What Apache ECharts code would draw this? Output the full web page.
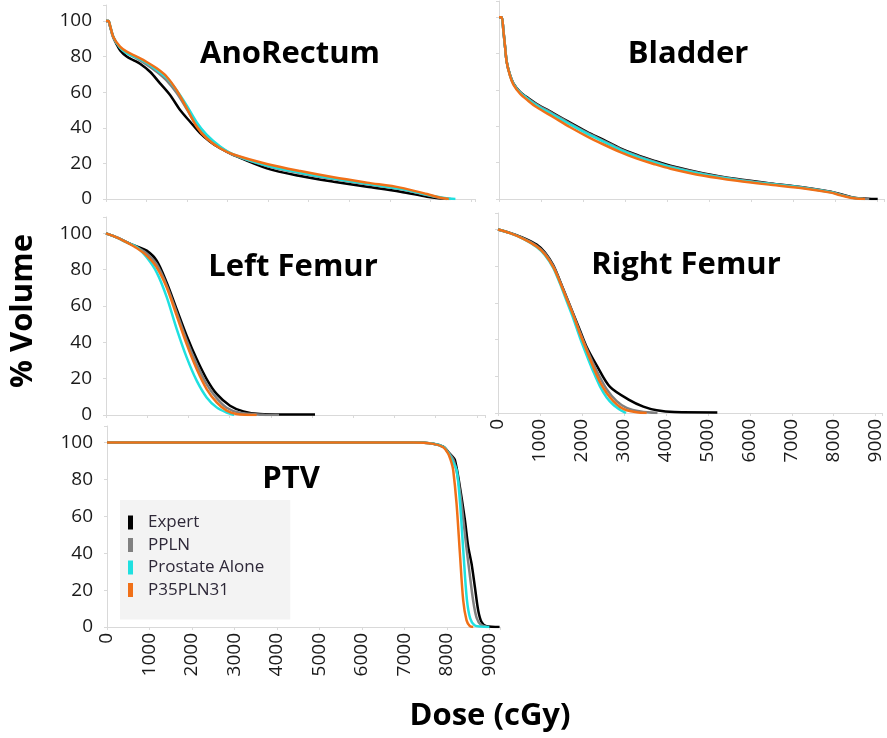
<!DOCTYPE html>
<html>
<head>
<meta charset="utf-8">
<script src="https://cdn.jsdelivr.net/npm/echarts@6/dist/echarts.min.js"></script>
<style>
html,body{margin:0;padding:0;background:#fff;}
#chart{width:887px;height:738px;}
</style>
</head>
<body>
<div id="chart"></div>
<script>
// ---- Data: [dose (cGy), % volume] ----
const seriesNames = ['Expert', 'PPLN', 'Prostate Alone', 'P35PLN31'];
const panelTitles = ['AnoRectum', 'Bladder', 'Left Femur', 'Right Femur', 'PTV'];
const yTickLabels = [0, 20, 40, 60, 80, 100];
const xTickLabels = [0, 1000, 2000, 3000, 4000, 5000, 6000, 7000, 8000, 9000];

const anoExpert = [[0,100],[60,100],[100,97],[180,91],[260,87],[350,83.5],[510,80],[675,78],[840,76],[1086,71.5],[1333,65],[1580,58.4],[1827,50],[2074,43.4],[2321,37],[2568,32.2],[2815,28.5],[3144,24.7],[3967,17.2],[4790,12.9],[5613,9.7],[6436,6.9],[7259,4.1],[7918,1.3],[8200,0.4],[8412,0]];
const anoPPLN = [[0,100],[60,100],[100,97],[181,90.5],[346,85],[510,82],[757,79],[1004,75.5],[1251,71.5],[1498,66.5],[1745,59.5],[1992,50.5],[2239,41],[2486,34.5],[2815,29],[3144,24.8],[3967,18.5],[4790,14.5],[5613,11.2],[6436,8.3],[7259,5.6],[7918,2.2],[8300,0.4],[8500,0]];
const anoProstate = [[0,100],[60,100],[100,97.5],[181,91],[346,85],[510,82],[757,79.5],[1004,76.5],[1251,72.5],[1498,68],[1745,61],[1992,52.5],[2239,43],[2486,36],[2815,29.5],[3144,25],[3967,18.8],[4790,14.8],[5613,11.5],[6436,8.5],[7259,5.8],[7918,2.4],[8350,0.5],[8617,0]];
const anoP35 = [[0,100],[60,100],[100,97.5],[181,91],[346,85.6],[510,82.8],[757,80],[1004,77],[1251,73.4],[1498,68.7],[1745,61],[1992,51],[2239,40.6],[2486,34],[2815,28.5],[3144,25],[3967,19.7],[4790,15.7],[5613,12.2],[6436,9.2],[7259,6.4],[7918,2.8],[8247,0.7],[8453,0]];

const bladExpert = [[0,100],[64,100],[103,93],[143,84],[183,75.6],[262,68.3],[342,63.7],[500,59],[699,55.4],[898,52.3],[1295,47.2],[1692,42],[2089,37],[2486,32.5],[2883,27.9],[3280,24.2],[3677,21.1],[4075,18.3],[4869,14.1],[5663,11],[6458,8.6],[7252,6.4],[7887,4],[8126,2.6],[8443,0.7],[8761,0.2],[9000,0]];
const bladPPLN = [[0,100],[64,100],[103,93],[143,84],[183,75.5],[262,68.2],[342,63.5],[500,58.8],[699,55],[898,52],[1295,46.8],[1692,41.5],[2089,36.5],[2486,32],[2883,27.5],[3280,23.8],[3677,20.7],[4075,17.9],[4869,13.8],[5663,10.8],[6458,8.4],[7252,6.2],[7887,3.8],[8126,2.4],[8443,0.6],[8800,0]];
const bladProstate = [[0,100],[64,100],[103,93],[143,84],[183,75.5],[262,68],[342,63.4],[500,58.5],[699,54.8],[898,51.5],[1295,46.2],[1692,41],[2089,36],[2486,31.5],[2883,27],[3280,23.3],[3677,20.2],[4075,17.5],[4869,13.5],[5663,10.5],[6458,8.2],[7252,6.1],[7887,3.7],[8126,2.2],[8443,0.5],[8650,0]];
const bladP35 = [[0,100],[64,100],[103,93],[143,84],[183,75.3],[262,67.8],[342,63],[500,58],[699,54],[898,50.5],[1295,45],[1692,39.5],[2089,34.5],[2486,30],[2883,25.8],[3280,22.2],[3677,19.3],[4075,16.7],[4869,12.8],[5663,10],[6458,7.8],[7252,5.8],[7887,3.5],[8126,2],[8443,0.4],[8700,0]];

const lfExpert = [[0,100],[259,97.8],[502,95.2],[744,92.8],[987,90.5],[1230,85],[1472,73],[1715,58.3],[1958,43.7],[2201,30.8],[2443,19.8],[2686,11.6],[3010,5.1],[3333,2],[3738,0.55],[4300,0.3],[5073,0.3]];
const lfPPLN = [[0,100],[259,97.8],[502,95.1],[744,92.4],[987,89],[1230,83],[1472,71.5],[1715,56.5],[1958,41.2],[2201,28],[2443,17],[2686,9.3],[2929,4],[3250,1.2],[3800,0.2],[4200,0]];
const lfProstate = [[0,100],[259,97.8],[502,95],[744,92.5],[987,86.8],[1230,78.5],[1472,65],[1715,47.4],[1958,31.7],[2201,18.9],[2443,9.7],[2686,4.2],[2929,1.3],[3110,0]];
const lfP35 = [[0,100],[259,97.8],[502,95],[744,91.9],[987,87.7],[1230,81.3],[1472,70.3],[1715,54.7],[1958,39],[2201,25.3],[2443,14.3],[2686,7],[2929,2.4],[3172,0.6],[3657,0]];

const rfExpert = [[0,100],[286,98.2],[604,95.5],[921,91.8],[1120,87.5],[1319,80.5],[1477,72],[1636,63],[1795,54],[1954,45],[2113,36],[2351,26],[2669,14.2],[3145,6.9],[3463,3.5],[3781,1.5],[4200,0.5],[5226,0.3]];
const rfPPLN = [[0,100],[286,98],[604,95.2],[921,91.2],[1120,87],[1319,80],[1477,71.7],[1636,62.7],[1795,53.6],[1954,44],[2113,35],[2351,23],[2589,13],[2828,6.5],[3066,2.8],[3400,0.8],[3800,0]];
const rfProstate = [[0,100],[286,98],[604,94.9],[921,90.5],[1120,86],[1319,79],[1477,70.5],[1636,61],[1795,51.5],[1954,41],[2113,31.5],[2272,22.5],[2430,14.5],[2589,8.5],[2748,4.5],[2907,1.8],[3000,0.6],[3050,0]];
const rfP35 = [[0,100],[286,98],[604,94.9],[921,90.7],[1120,86.4],[1319,79.5],[1477,71.3],[1636,62.3],[1795,53.2],[1954,43.2],[2113,34.1],[2272,25],[2430,16.9],[2589,10.9],[2748,6.5],[2907,3.3],[3066,1.5],[3304,0.4],[3542,0]];

const ptvExpert = [[0,100],[7200,100],[7678,99.4],[7914,97.8],[8031,95],[8110,93],[8188,90.6],[8306,76],[8424,58],[8502,43.5],[8580,34.4],[8659,21.7],[8737,9],[8816,2.7],[8933,0.4],[9240,0]];
const ptvPPLN = [[0,100],[7200,100],[7678,99.4],[7914,97.7],[8031,94.8],[8150,91],[8250,82],[8350,66],[8440,47],[8530,30],[8620,14],[8700,5],[8800,1.2],[8950,0]];
const ptvProstate = [[0,100],[7200,100],[7678,99.4],[7914,97.7],[8031,94.5],[8130,90],[8230,85],[8310,67],[8390,40],[8470,15],[8550,4.5],[8650,1],[8800,0.2],[9000,0]];
const ptvP35 = [[0,100],[7200,100],[7678,99.3],[7914,97.5],[8031,94],[8110,89],[8149,85],[8227,67],[8306,40],[8384,14.5],[8463,3.6],[8541,0.5],[8620,0]];

const panelData = [
  [anoExpert, anoPPLN, anoProstate, anoP35],
  [bladExpert, bladPPLN, bladProstate, bladP35],
  [lfExpert, lfPPLN, lfProstate, lfP35],
  [rfExpert, rfPPLN, rfProstate, rfP35],
  [ptvExpert, ptvPPLN, ptvProstate, ptvP35]
];

// ---- Layout / style ----
const colors = ['#000000', '#808080', '#1fe0e0', '#f07018'];
const grids = [
  {left: 106, top: 5,   width: 369, height: 194},
  {left: 499, top: 1,   width: 385, height: 198},
  {left: 106, top: 217, width: 379, height: 198},
  {left: 498, top: 213, width: 384, height: 200},
  {left: 107, top: 426, width: 393, height: 201}
];
const xMax = [9100, 9150, 9200, 9150, 9250];
const showXLabels = [false, false, false, true, true];
const showYLabels = [true, false, true, false, true];
const titlePos = [[290, 54], [688, 54], [293, 267], [686, 265], [291, 479]];

const labelFont = '"Open Sans", "DejaVu Sans", sans-serif';
const axisGray = '#d9d9d9';

const xAxes = grids.map((g, i) => ({
  type: 'value', gridIndex: i, min: 0, max: xMax[i], interval: 1000,
  splitLine: {show: false},
  axisLine: {show: true, lineStyle: {color: axisGray, width: 1}},
  axisTick: {show: true, length: 3, lineStyle: {color: axisGray}},
  axisLabel: {
    show: showXLabels[i], rotate: 90, margin: 6,
    fontSize: 19, color: '#1a1a1a', fontFamily: labelFont,
    formatter: v => (xTickLabels.indexOf(v) >= 0 ? String(v) : '')
  }
}));
const yAxes = grids.map((g, i) => ({
  type: 'value', gridIndex: i, min: 0, max: 109, interval: 20,
  splitLine: {show: false},
  axisLine: {show: true, lineStyle: {color: axisGray, width: 1}},
  axisTick: {show: true, length: 3, lineStyle: {color: axisGray}},
  axisLabel: {
    show: showYLabels[i], margin: 14,
    fontSize: 19, color: '#1a1a1a', fontFamily: labelFont,
    formatter: v => (yTickLabels.indexOf(v) >= 0 ? String(v) : '')
  }
}));

const series = [];
panelData.forEach((arr, gi) => {
  arr.forEach((d, si) => {
    series.push({
      name: seriesNames[si], type: 'line', xAxisIndex: gi, yAxisIndex: gi,
      data: d, showSymbol: false, symbol: 'none', smooth: 0.3,
      lineStyle: {color: colors[si], width: 2.5},
      itemStyle: {color: colors[si]},
      silent: true, animation: false
    });
  });
});

const graphics = panelTitles.map((t, i) => ({
  type: 'text', x: titlePos[i][0], y: titlePos[i][1], z: 100,
  style: {text: t, font: 'bold 31px "Open Sans", sans-serif', fill: '#000', align: 'center', verticalAlign: 'middle'}
}));
graphics.push({
  type: 'text', x: 23, y: 311, rotation: Math.PI / 2, z: 100,
  style: {text: '% Volume', font: 'bold 31px "Open Sans", sans-serif', fill: '#000', align: 'center', verticalAlign: 'middle'}
});
graphics.push({
  type: 'text', x: 490, y: 716, z: 100,
  style: {text: 'Dose (cGy)', font: 'bold 31px "Open Sans", sans-serif', fill: '#000', align: 'center', verticalAlign: 'middle'}
});

const chart = echarts.init(document.getElementById('chart'), null, {renderer: 'canvas'});
chart.setOption({
  animation: false,
  backgroundColor: '#ffffff',
  color: colors,
  grid: grids,
  xAxis: xAxes,
  yAxis: yAxes,
  legend: {
    data: seriesNames, orient: 'vertical', left: 120, top: 500,
    padding: [14, 26, 21, 8], backgroundColor: '#f3f3f3',
    icon: 'rect', itemWidth: 5, itemHeight: 14, itemGap: 5.5,
    selectedMode: false,
    textStyle: {fontSize: 17, color: '#2e2838', fontFamily: labelFont, padding: [0, 0, 0, 10]}
  },
  graphic: graphics,
  series: series
});
</script>
</body>
</html>
